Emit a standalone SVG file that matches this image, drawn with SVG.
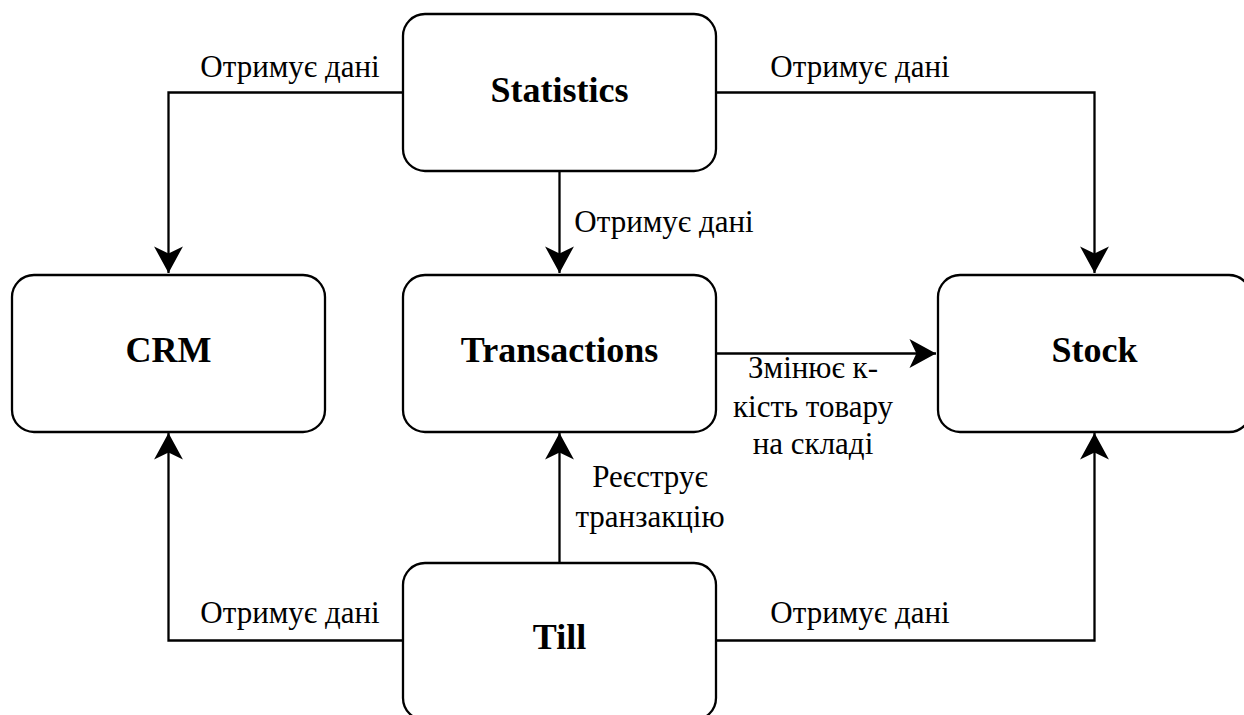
<svg xmlns="http://www.w3.org/2000/svg" width="1244" height="715" viewBox="0 0 1244 715">
<style>
.box{fill:#fff;stroke:#000;stroke-width:2.3}
.nt{font-family:"Liberation Serif","Times New Roman",serif;font-size:36px;font-weight:bold;text-anchor:middle;fill:#000}
.lb{font-family:"Liberation Serif","Times New Roman",serif;font-size:31px;text-anchor:middle;fill:#000}
.ed{fill:none;stroke:#000;stroke-width:2.3}
</style>
<defs>
<marker id="arr" markerUnits="userSpaceOnUse" markerWidth="30" markerHeight="30" viewBox="-24 -13 26 26" refX="0" refY="0" orient="auto">
<path d="M0,0 L-23,-12.5 L-17,0 L-23,12.5 Z" fill="#000"/>
</marker>
</defs>
<rect width="1244" height="715" fill="#fff"/>
<g id="connectors">
<path class="ed" d="M403,92.5 H168.5 V273" marker-end="url(#arr)"/>
<path class="ed" d="M716,92.5 H1094.5 V273" marker-end="url(#arr)"/>
<path class="ed" d="M559.5,171 V273" marker-end="url(#arr)"/>
<path class="ed" d="M716,353.5 H936" marker-end="url(#arr)"/>
<path class="ed" d="M559.5,563 V433" marker-end="url(#arr)"/>
<path class="ed" d="M403,640.5 H168.5 V433" marker-end="url(#arr)"/>
<path class="ed" d="M716,640.5 H1094.5 V433" marker-end="url(#arr)"/>
<text class="lb" x="290" y="77">Отримує дані</text>
<text class="lb" x="860" y="77">Отримує дані</text>
<text class="lb" x="664" y="232">Отримує дані</text>
<text class="lb" x="813" y="378">Змінює к-</text>
<text class="lb" x="813" y="417">кість товару</text>
<text class="lb" x="813" y="454">на складі</text>
<text class="lb" x="650" y="487">Реєструє</text>
<text class="lb" x="650" y="527">транзакцію</text>
<text class="lb" x="290" y="623">Отримує дані</text>
<text class="lb" x="860" y="623">Отримує дані</text>
</g>
<g id="statistics">
<rect class="box" x="403" y="14" width="313" height="157" rx="22"/>
<text class="nt" x="559.5" y="102">Statistics</text>
</g>
<g id="crm">
<rect class="box" x="12" y="275" width="313" height="157" rx="22"/>
<text class="nt" x="168.5" y="362">CRM</text>
</g>
<g id="transactions">
<rect class="box" x="403" y="275" width="313" height="157" rx="22"/>
<text class="nt" x="559.5" y="362">Transactions</text>
</g>
<g id="stock">
<rect class="box" x="938" y="275" width="313" height="157" rx="22"/>
<text class="nt" x="1094.5" y="362">Stock</text>
</g>
<g id="till">
<rect class="box" x="403" y="563" width="313" height="157" rx="22"/>
<text class="nt" x="559.5" y="649">Till</text>
</g>
</svg>
